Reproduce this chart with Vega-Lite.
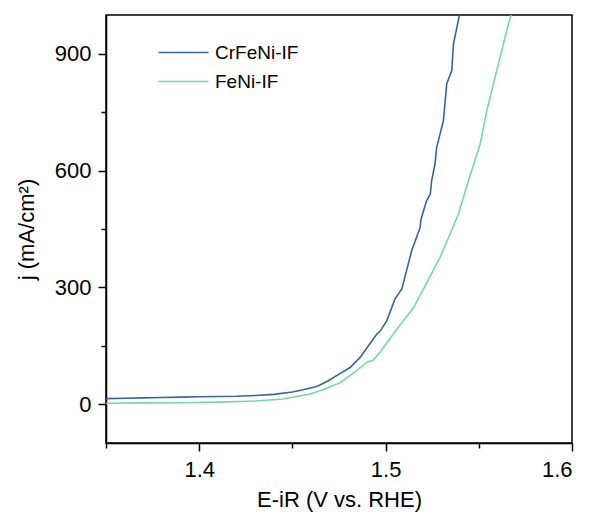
{
  "$schema": "https://vega.github.io/schema/vega-lite/v6.json",
  "width": 466,
  "height": 428,
  "autosize": "none",
  "padding": {"left": 106, "top": 15, "right": 21, "bottom": 75},
  "config": {
    "font": "Liberation Sans",
    "view": {"stroke": "#000", "strokeWidth": 1.5},
    "axis": {
      "grid": false,
      "domainColor": "#000",
      "domainWidth": 1.5,
      "tickColor": "#000",
      "tickWidth": 1.5,
      "tickSize": 8,
      "labelFontSize": 22,
      "labelColor": "#000",
      "labelPadding": 7,
      "titleFontSize": 22,
      "titleColor": "#000",
      "titleFontWeight": "normal"
    }
  },
  "data": {
    "values": [
      {"E": 1.350, "j": 14, "series": "CrFeNi-IF"},
      {"E": 1.360, "j": 15, "series": "CrFeNi-IF"},
      {"E": 1.370, "j": 16, "series": "CrFeNi-IF"},
      {"E": 1.380, "j": 17, "series": "CrFeNi-IF"},
      {"E": 1.390, "j": 18, "series": "CrFeNi-IF"},
      {"E": 1.400, "j": 19, "series": "CrFeNi-IF"},
      {"E": 1.410, "j": 19.5, "series": "CrFeNi-IF"},
      {"E": 1.420, "j": 20, "series": "CrFeNi-IF"},
      {"E": 1.430, "j": 22, "series": "CrFeNi-IF"},
      {"E": 1.440, "j": 25, "series": "CrFeNi-IF"},
      {"E": 1.450, "j": 31, "series": "CrFeNi-IF"},
      {"E": 1.455, "j": 36, "series": "CrFeNi-IF"},
      {"E": 1.462, "j": 44, "series": "CrFeNi-IF"},
      {"E": 1.464, "j": 47, "series": "CrFeNi-IF"},
      {"E": 1.470, "j": 62, "series": "CrFeNi-IF"},
      {"E": 1.4737, "j": 73, "series": "CrFeNi-IF"},
      {"E": 1.481, "j": 94, "series": "CrFeNi-IF"},
      {"E": 1.4863, "j": 120, "series": "CrFeNi-IF"},
      {"E": 1.4908, "j": 150, "series": "CrFeNi-IF"},
      {"E": 1.4953, "j": 180, "series": "CrFeNi-IF"},
      {"E": 1.497, "j": 187, "series": "CrFeNi-IF"},
      {"E": 1.5006, "j": 214, "series": "CrFeNi-IF"},
      {"E": 1.5033, "j": 248, "series": "CrFeNi-IF"},
      {"E": 1.505, "j": 270, "series": "CrFeNi-IF"},
      {"E": 1.5087, "j": 296, "series": "CrFeNi-IF"},
      {"E": 1.514, "j": 394, "series": "CrFeNi-IF"},
      {"E": 1.5185, "j": 454, "series": "CrFeNi-IF"},
      {"E": 1.519, "j": 475, "series": "CrFeNi-IF"},
      {"E": 1.522, "j": 523, "series": "CrFeNi-IF"},
      {"E": 1.524, "j": 540, "series": "CrFeNi-IF"},
      {"E": 1.5247, "j": 574, "series": "CrFeNi-IF"},
      {"E": 1.5265, "j": 617, "series": "CrFeNi-IF"},
      {"E": 1.5274, "j": 660, "series": "CrFeNi-IF"},
      {"E": 1.531, "j": 728, "series": "CrFeNi-IF"},
      {"E": 1.5328, "j": 823, "series": "CrFeNi-IF"},
      {"E": 1.5355, "j": 857, "series": "CrFeNi-IF"},
      {"E": 1.5364, "j": 925, "series": "CrFeNi-IF"},
      {"E": 1.5396, "j": 1000, "series": "CrFeNi-IF"},
      {"E": 1.350, "j": 2, "series": "FeNi-IF"},
      {"E": 1.370, "j": 3, "series": "FeNi-IF"},
      {"E": 1.390, "j": 3.5, "series": "FeNi-IF"},
      {"E": 1.410, "j": 5, "series": "FeNi-IF"},
      {"E": 1.430, "j": 8, "series": "FeNi-IF"},
      {"E": 1.445, "j": 13, "series": "FeNi-IF"},
      {"E": 1.4595, "j": 26, "series": "FeNi-IF"},
      {"E": 1.467, "j": 38, "series": "FeNi-IF"},
      {"E": 1.4756, "j": 55, "series": "FeNi-IF"},
      {"E": 1.4845, "j": 86, "series": "FeNi-IF"},
      {"E": 1.4898, "j": 107, "series": "FeNi-IF"},
      {"E": 1.4934, "j": 113, "series": "FeNi-IF"},
      {"E": 1.497, "j": 133, "series": "FeNi-IF"},
      {"E": 1.5041, "j": 180, "series": "FeNi-IF"},
      {"E": 1.515, "j": 248, "series": "FeNi-IF"},
      {"E": 1.5212, "j": 304, "series": "FeNi-IF"},
      {"E": 1.5292, "j": 377, "series": "FeNi-IF"},
      {"E": 1.5346, "j": 437, "series": "FeNi-IF"},
      {"E": 1.539, "j": 488, "series": "FeNi-IF"},
      {"E": 1.5444, "j": 574, "series": "FeNi-IF"},
      {"E": 1.5507, "j": 668, "series": "FeNi-IF"},
      {"E": 1.5543, "j": 754, "series": "FeNi-IF"},
      {"E": 1.5596, "j": 857, "series": "FeNi-IF"},
      {"E": 1.565, "j": 960, "series": "FeNi-IF"},
      {"E": 1.5673, "j": 1000, "series": "FeNi-IF"}
    ]
  },
  "layer": [
    {
      "mark": {"type": "line", "strokeWidth": 1.6, "clip": true},
      "encoding": {
        "x": {
          "field": "E", "type": "quantitative",
          "scale": {"domain": [1.35, 1.6], "nice": false, "zero": false},
          "axis": {"orient": "bottom", "values": [1.4, 1.5, 1.6], "format": ".1f", "title": "E-iR (V vs. RHE)", "labelPadding": 8, "titlePadding": 9}
        },
        "y": {
          "field": "j", "type": "quantitative",
          "scale": {"domain": [-100, 1000], "nice": false, "zero": false},
          "axis": {"orient": "left", "values": [0, 300, 600, 900], "title": "j (mA/cm²)", "titlePadding": 16}
        },
        "color": {
          "field": "series", "type": "nominal",
          "scale": {"domain": ["CrFeNi-IF", "FeNi-IF"], "range": ["#3a6499", "#7ad6a2"]},
          "legend": {
            "title": null,
            "orient": "none",
            "legendX": 68,
            "legendY": 28,
            "padding": 0,
            "symbolType": "M-5,0H5",
            "symbolSize": 100,
            "symbolStrokeWidth": 1.5,
            "labelFontSize": 19,
            "labelColor": "#000",
            "labelOffset": 22,
            "rowPadding": 9
          }
        }
      }
    },
    {
      "mark": {"type": "line", "opacity": 0, "clip": true},
      "encoding": {
        "x": {
          "field": "E", "type": "quantitative",
          "axis": {"orient": "bottom", "values": [1.35, 1.45, 1.55], "labels": false, "domain": false, "tickSize": 5, "title": null}
        },
        "y": {
          "field": "j", "type": "quantitative",
          "axis": {"orient": "left", "values": [150, 450, 750], "labels": false, "domain": false, "tickSize": 5, "title": null}
        },
        "detail": {"field": "series", "type": "nominal"}
      }
    }
  ],
  "resolve": {"axis": {"x": "independent", "y": "independent"}}
}
